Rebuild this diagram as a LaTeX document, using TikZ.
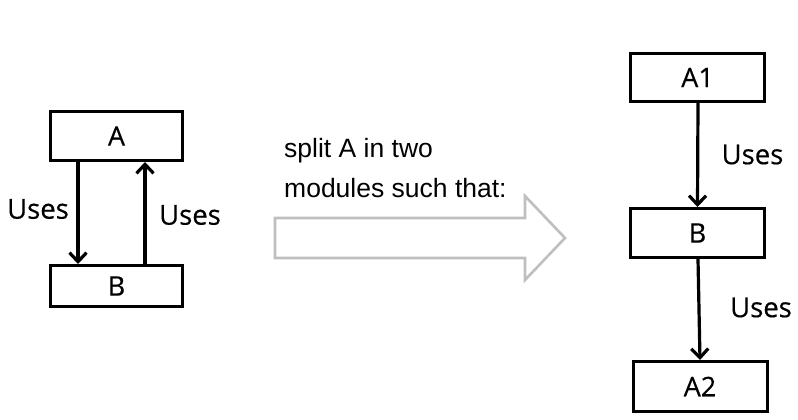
\documentclass[tikz,border=0pt]{standalone}
\usepackage{fontspec}
\setmainfont{Open Sans}
\newfontfamily\segoe[FakeBold=0.4]{Open Sans}
\newfontfamily\arialfont{Liberation Sans}
\usetikzlibrary{arrows.meta}
\tikzset{
  modbox/.style={draw=black, line width=3pt, inner sep=0pt, font=\segoe\fontsize{27}{32}\selectfont},
  uselbl/.style={inner sep=0pt, font=\segoe\fontsize{27.5}{32}\selectfont},
  usearrow/.style={line width=3.2pt, -{Straight Barb[length=9pt,width=17pt,line width=3.2pt]}},
  note/.style={inner sep=0pt, anchor=base west, font=\arialfont\fontsize{26.5}{30}\selectfont},
  bigarrow/.style={draw=black!25, line width=2.6pt, line join=miter}
}
\begin{document}
\begin{tikzpicture}[x=1pt,y=-1pt]
\useasboundingbox[fill=white] (0,0) rectangle (798,420);
% left side
\node[modbox, minimum width=132pt, minimum height=49pt] (A) at (116.5,136) {A};
\node[modbox, minimum width=132pt, minimum height=41pt] (B) at (116.5,286) {B};
\draw[usearrow] ([xshift=-38.5pt]A.south) -- ([xshift=-38.5pt]B.north);
\draw[usearrow] ([xshift=28.5pt]B.north) -- ([xshift=28.5pt]A.south);
\node[uselbl] (u1) at (38,209) {Uses};
\node[uselbl] (u2) at (190,215) {Uses};
% middle
\node[note] (t1) at (284,157.5) {split A in two};
\node[note] (t2) at (284,197.5) {modules such that:};
\draw[bigarrow] (275,218) -- (525,218) -- (525,196) -- (565,238) -- (525,280) -- (525,258) -- (275,258) -- cycle;
% right side
\node[modbox, minimum width=134pt, minimum height=48pt] (A1) at (697.5,77.5) {A1};
\node[modbox, minimum width=134pt, minimum height=49pt] (B2) at (697.5,233) {B};
\node[modbox, minimum width=134pt, minimum height=50pt] (A2) at (700,386.5) {A2};
\draw[usearrow] ([xshift=0.5pt]A1.south) -- (B2.north);
\draw[usearrow] ([xshift=0.5pt]B2.south) -- (A2.north);
\node[uselbl] (u3) at (752.5,154.5) {Uses};
\node[uselbl] (u4) at (761,307.5) {Uses};
\end{tikzpicture}
\end{document}
